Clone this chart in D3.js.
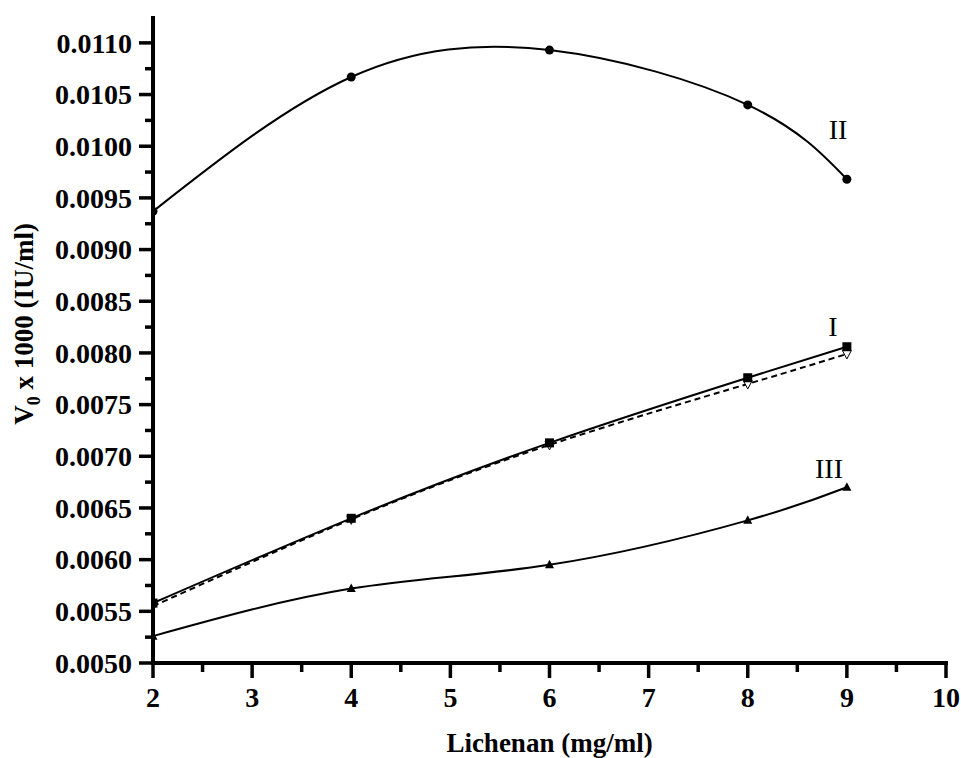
<!DOCTYPE html>
<html>
<head>
<meta charset="utf-8">
<script src="https://cdn.jsdelivr.net/npm/d3@7"></script>
<style>
  html, body { margin: 0; padding: 0; background: #fff; }
  svg { display: block; }
</style>
</head>
<body>
<div id="chart"></div>
<script>
// Lichenan concentration (mg/ml)
const xValues = [2, 4, 6, 8, 9];
// V0 x 1000 (IU/ml)
const seriesI     = [0.00558, 0.00640, 0.00713, 0.00776, 0.00806];  // filled squares, solid
const seriesIfit  = [0.00555, 0.00639, 0.00711, 0.00770, 0.00799];  // open down-triangles, dashed
const seriesII    = [0.00937, 0.01067, 0.01093, 0.01040, 0.00968];  // filled circles
const seriesIII   = [0.00526, 0.00572, 0.00595, 0.00638, 0.00670];  // filled triangles

const xTicks = [2, 3, 4, 5, 6, 7, 8, 9, 10];
const yTicks = [0.0050, 0.0055, 0.0060, 0.0065, 0.0070, 0.0075, 0.0080,
                0.0085, 0.0090, 0.0095, 0.0100, 0.0105, 0.0110];

const curveLabels = [
  { text: "I",   x: 833, y: 336 },
  { text: "II",  x: 838, y: 139 },
  { text: "III", x: 829, y: 478 }
];

const width = 961, height = 758;
const font = "'Liberation Serif', 'Times New Roman', serif";

const svg = d3.select("#chart").append("svg")
  .attr("width", width)
  .attr("height", height);

const x = d3.scaleLinear().domain([2, 10]).range([153, 946]);
const y = d3.scaleLinear().domain([0.005, 0.01126]).range([663, 16]);

svg.append("defs").append("clipPath").attr("id", "plot-clip")
  .append("rect")
  .attr("x", 153).attr("y", 0)
  .attr("width", width - 153).attr("height", 663);

const pts = vals => xValues.map((v, i) => [v, vals[i]]);

const line = d3.line()
  .x(d => x(d[0]))
  .y(d => y(d[1]))
  .curve(d3.curveNatural);

const plot = svg.append("g");

const series = [
  { vals: seriesII,  dash: null,  marker: "circle" },
  { vals: seriesIfit, dash: "6,4", marker: "tridown" },
  { vals: seriesI,   dash: null,  marker: "square" },
  { vals: seriesIII, dash: null,  marker: "triup" }
];

series.forEach(s => {
  plot.append("path")
    .datum(pts(s.vals))
    .attr("d", line)
    .attr("fill", "none")
    .attr("stroke", "#000")
    .attr("stroke-width", 2)
    .attr("stroke-dasharray", s.dash);
});

// Markers (clipped to plot area, like the original)
const markers = svg.append("g").attr("clip-path", "url(#plot-clip)");

series.forEach(s => {
  const g = markers.append("g");
  pts(s.vals).forEach(d => {
    const cx = x(d[0]), cy = y(d[1]);
    if (s.marker === "circle") {
      g.append("circle").attr("cx", cx).attr("cy", cy).attr("r", 4.5).attr("fill", "#000");
    } else if (s.marker === "square") {
      g.append("rect").attr("x", cx - 4.5).attr("y", cy - 4.5)
        .attr("width", 9).attr("height", 9).attr("fill", "#000");
    } else if (s.marker === "triup") {
      g.append("path")
        .attr("d", `M${cx},${cy - 5}L${cx + 4.5},${cy + 3.5}L${cx - 4.5},${cy + 3.5}Z`)
        .attr("fill", "#000");
    } else {
      g.append("path")
        .attr("d", `M${cx - 4.5},${cy - 3.5}L${cx + 4.5},${cy - 3.5}L${cx},${cy + 5}Z`)
        .attr("fill", "#fff").attr("stroke", "#000").attr("stroke-width", 1);
    }
  });
});

// ─── Axes ───
const xAxis = svg.append("g").attr("transform", "translate(0,663)");
xAxis.append("line")
  .attr("x1", 151).attr("x2", 948)
  .attr("stroke", "#000").attr("stroke-width", 4);

const xMinor = d3.range(2.5, 10, 1);
xAxis.selectAll("line.major").data(xTicks).join("line")
  .attr("class", "major")
  .attr("x1", d => x(d)).attr("x2", d => x(d))
  .attr("y1", 0).attr("y2", 15)
  .attr("stroke", "#000").attr("stroke-width", 3.5);
xAxis.selectAll("line.minor").data(xMinor).join("line")
  .attr("class", "minor")
  .attr("x1", d => x(d)).attr("x2", d => x(d))
  .attr("y1", 0).attr("y2", 9)
  .attr("stroke", "#000").attr("stroke-width", 3.5);
xAxis.selectAll("text").data(xTicks).join("text")
  .attr("x", d => x(d))
  .attr("y", 44)
  .attr("text-anchor", "middle")
  .attr("font-family", font)
  .attr("font-weight", "bold")
  .attr("font-size", 28)
  .text(d => d);

const yAxis = svg.append("g").attr("transform", "translate(153,0)");
yAxis.append("line")
  .attr("y1", 16).attr("y2", 665)
  .attr("stroke", "#000").attr("stroke-width", 4);

const yMinor = d3.range(0.00525, 0.0112, 0.0005);
yAxis.selectAll("line.major").data(yTicks).join("line")
  .attr("class", "major")
  .attr("y1", d => y(d)).attr("y2", d => y(d))
  .attr("x1", 0).attr("x2", -14)
  .attr("stroke", "#000").attr("stroke-width", 3.5);
yAxis.selectAll("line.minor").data(yMinor).join("line")
  .attr("class", "minor")
  .attr("y1", d => y(d)).attr("y2", d => y(d))
  .attr("x1", 0).attr("x2", -8)
  .attr("stroke", "#000").attr("stroke-width", 3.5);
yAxis.selectAll("text").data(yTicks).join("text")
  .attr("x", -21)
  .attr("y", d => y(d))
  .attr("dy", "0.35em")
  .attr("text-anchor", "end")
  .attr("font-family", font)
  .attr("font-weight", "bold")
  .attr("font-size", 28)
  .text(d => d3.format(".4f")(d));

// Axis titles
svg.append("text")
  .attr("x", x(6))
  .attr("y", 752)
  .attr("text-anchor", "middle")
  .attr("font-family", font)
  .attr("font-weight", "bold")
  .attr("font-size", 27)
  .text("Lichenan (mg/ml)");

const yTitle = svg.append("text")
  .attr("transform", "translate(33,324) rotate(-90)")
  .attr("text-anchor", "middle")
  .attr("font-family", font)
  .attr("font-weight", "bold")
  .attr("font-size", 27);
yTitle.append("tspan").text("V");
yTitle.append("tspan").attr("font-size", 18).attr("dy", 7).text("0");
yTitle.append("tspan").attr("dy", -7).text(" x 1000 (IU/ml)");

// Curve labels
svg.append("g").selectAll("text").data(curveLabels).join("text")
  .attr("x", d => d.x)
  .attr("y", d => d.y)
  .attr("text-anchor", "middle")
  .attr("font-family", font)
  .attr("font-size", 28)
  .text(d => d.text);
</script>
</body>
</html>
